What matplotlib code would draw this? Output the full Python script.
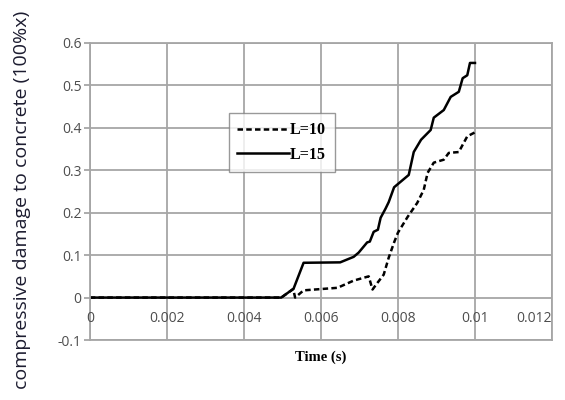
import matplotlib
matplotlib.use('Agg')
import matplotlib.pyplot as plt
from matplotlib import transforms

# 데이터
time_l15 = [0, 0.00497, 0.00529, 0.00555, 0.0065, 0.00685, 0.00698, 0.0072, 0.00727, 0.00737,
            0.00748, 0.00755, 0.00768, 0.00776, 0.0079, 0.00807, 0.00828, 0.00841, 0.0086,
            0.00885, 0.00893, 0.00919, 0.00937, 0.00958, 0.00968, 0.0098, 0.00987, 0.01]
damage_l15 = [0, 0, 0.021, 0.082, 0.083, 0.096, 0.106, 0.13, 0.132, 0.155,
              0.16, 0.188, 0.21, 0.225, 0.26, 0.273, 0.289, 0.343, 0.372,
              0.395, 0.424, 0.442, 0.473, 0.485, 0.517, 0.524, 0.553, 0.553]

time_l10 = [0, 0.00497, 0.00528, 0.00533, 0.00555, 0.00643, 0.00685, 0.00724, 0.00734, 0.00747,
            0.00763, 0.00776, 0.0079, 0.008, 0.00825, 0.0085, 0.00867, 0.00877, 0.00893,
            0.00919, 0.00932, 0.00958, 0.00968, 0.0098, 0.00997, 0.01]
damage_l10 = [0, 0, 0.02, 0.0, 0.017, 0.023, 0.04, 0.05, 0.019, 0.035,
              0.054, 0.094, 0.13, 0.153, 0.19, 0.223, 0.254, 0.294, 0.318,
              0.325, 0.341, 0.343, 0.36, 0.38, 0.388, 0.39]

xticks = [0, 0.002, 0.004, 0.006, 0.008, 0.01, 0.012]
xtick_labels = ['0', '0.002', '0.004', '0.006', '0.008', '0.01', '0.012']
yticks = [-0.1, 0, 0.1, 0.2, 0.3, 0.4, 0.5, 0.6]
ytick_labels = ['-0.1', '0', '0.1', '0.2', '0.3', '0.4', '0.5', '0.6']

grid_color = '#a6a6a6'
tick_color = '#4d4d4d'

fig = plt.figure(figsize=(5.65, 4), dpi=100)
ax = fig.add_axes([0.159, 0.15, 0.818, 0.7425])

ax.plot(time_l10, damage_l10, color='black', lw=1.8, ls=(0, (2.2, 1.3)), label='L=10')
ax.plot(time_l15, damage_l15, color='black', lw=1.8, label='L=15')

ax.set_xlim(0, 0.012)
ax.set_ylim(-0.1, 0.6)
ax.set_xticks(xticks)
ax.set_yticks(yticks)
ax.set_yticklabels(ytick_labels, fontsize=10, color=tick_color, family='Open Sans')
ax.set_xticklabels([])
ax.tick_params(axis='x', length=0)
ax.tick_params(axis='y', length=4, color=grid_color, width=1.3, pad=2)
ax.grid(True, color=grid_color, lw=1.3)
for s in ax.spines.values():
    s.set_color(grid_color)
    s.set_linewidth(1.3)

# x 눈금 라벨은 y=0 축 바로 아래에 표시 (엑셀 스타일)
offset = transforms.offset_copy(ax.transData, fig=fig, x=0, y=-10, units='points')
for v, lab in zip(xticks, xtick_labels):
    ha = 'right' if v == xticks[-1] else 'center'
    ax.text(v, 0, lab, transform=offset, ha=ha, va='top',
            fontsize=10, color=tick_color, family='Open Sans')

ax.set_xlabel('Time (s)', family='Liberation Serif', fontweight='bold', fontsize=10.5, labelpad=4)
fig.text(0.039, 0.5, 'compressive damage to concrete (100%x)', rotation=90,
         ha='center', va='center', fontsize=14, color='#1c1c30', family='Open Sans')

ax.legend(loc='upper left', bbox_to_anchor=(0.283, 0.79), frameon=True, fancybox=False,
          edgecolor='#808080', handlelength=3.2, borderpad=0.55, labelspacing=0.55,
          handletextpad=0.1, prop={'family': 'Liberation Serif', 'weight': 'bold', 'size': 11.5})

plt.savefig('out.png', dpi=100)
